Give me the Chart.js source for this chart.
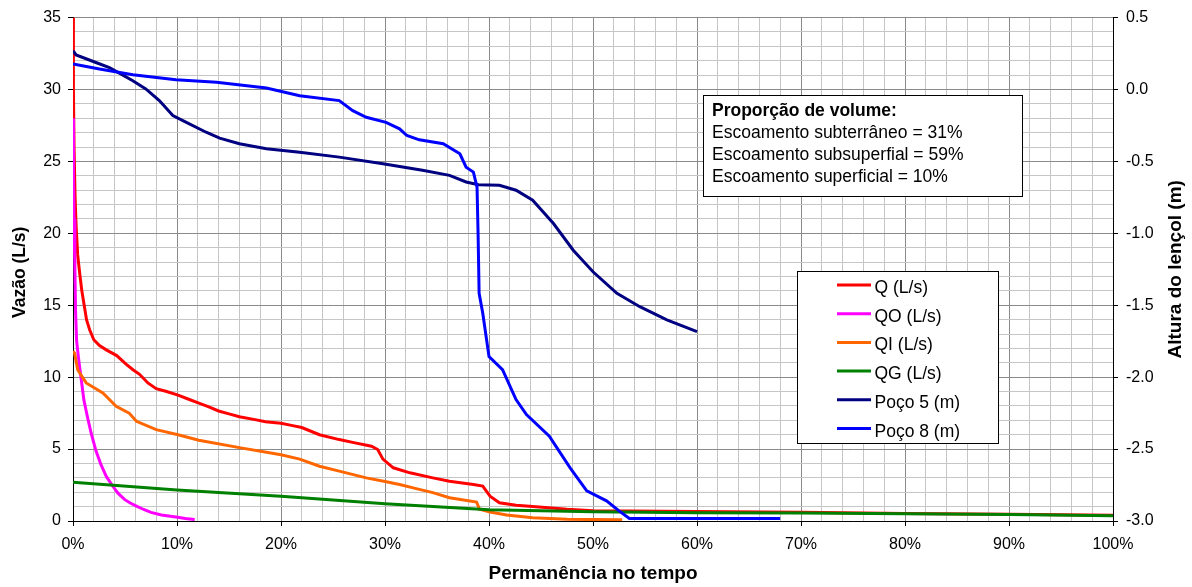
<!DOCTYPE html>
<html><head><meta charset="utf-8">
<script src="https://cdn.jsdelivr.net/npm/chart.js@4"></script>
<style>html,body{margin:0;padding:0;background:#fff;}#wrap{position:relative;width:1192px;height:587px;}</style>
</head><body><div id="wrap"><canvas id="c" width="1192" height="587"></canvas></div>
<script>
const FONT = '"Liberation Sans", Arial, Helvetica, sans-serif';

// ---- data (x = % of time, y = L/s or m) ----
const qX  = [0,0.04,0.1,0.2,0.3,0.45,0.63,0.85,1.1,1.3,1.6,2.0,2.55,3.2,4.2,5.1,5.8,6.4,7.2,8.0,9.0,10.1,11,12.1,13,14,15,16,17.5,18.5,20,21,22,23.7,25.6,27,28.7,29.3,29.8,30.8,32.4,34.6,36.2,38.5,39.4,40.1,41,42.6,44.2,47.5,50,60,70,80,90,100];
const qY  = [35,30,26,22.5,20.5,18.5,17.3,16,14.9,14.0,13.3,12.6,12.2,11.9,11.5,10.9,10.5,10.2,9.6,9.2,9.0,8.75,8.5,8.2,7.95,7.65,7.45,7.25,7.05,6.9,6.8,6.65,6.5,6.0,5.66,5.45,5.2,4.97,4.3,3.7,3.35,3.0,2.77,2.54,2.43,1.73,1.27,1.09,1.0,0.81,0.72,0.66,0.6,0.53,0.47,0.4];
const qoX = [0,0.05,0.1,0.18,0.25,0.35,0.55,0.8,1.05,1.4,1.75,2.2,2.7,3.2,3.8,4.3,4.95,5.5,6.1,6.8,7.5,8.5,9.9,10.8,11.7];
const qoY = [28,24,21,17.5,14.5,12.5,11.2,9.8,8.4,7.2,6.1,4.9,3.9,3.1,2.45,1.95,1.5,1.25,1.04,0.8,0.6,0.42,0.28,0.18,0.1];
const qiX = [0,0.15,0.46,1.27,2.87,4.15,5.4,6.1,8.0,10.1,12.1,16,20,21.8,23.7,25.6,28.2,30,31.4,33,34.6,36.2,38.8,39.1,40.1,41.7,44.2,47.5,52.8];
const qiY = [11.8,11.67,10.5,9.6,8.9,7.97,7.5,6.93,6.35,6.0,5.62,5.1,4.6,4.3,3.81,3.47,3.0,2.75,2.54,2.25,1.97,1.62,1.32,0.81,0.62,0.42,0.23,0.12,0.08];
const qgX = [0,10,20,30,40,50,60,70,80,90,100];
const qgY = [2.7,2.15,1.72,1.2,0.78,0.64,0.58,0.55,0.5,0.45,0.36];
const p5X = [0,0.3,2.2,3.5,4.8,5.75,7.0,8.3,9.6,10.9,12.8,14.1,16,18.6,21.8,25.6,29.8,33.6,36.2,37.8,39,41,42.6,44.2,46.2,48.1,50,52.3,54.5,57.1,60];
const p5Y = [0.27,0.24,0.188,0.153,0.1,0.061,0.004,-0.077,-0.181,-0.228,-0.297,-0.338,-0.377,-0.412,-0.436,-0.47,-0.516,-0.562,-0.597,-0.643,-0.662,-0.666,-0.7,-0.77,-0.932,-1.117,-1.267,-1.417,-1.51,-1.602,-1.683];
const p8X = [0,2.55,5.75,9.9,13.8,18.6,21.8,25.6,26.9,28.2,30.1,31.4,32.1,33.3,35.6,37.2,37.8,38.5,38.85,38.95,39.05,39.4,40,41.3,42.6,43.6,45.8,47.8,49.4,51.3,52.5,53.5,68];
const p8Y = [0.177,0.142,0.103,0.068,0.05,0.011,-0.043,-0.077,-0.147,-0.193,-0.228,-0.273,-0.32,-0.35,-0.377,-0.447,-0.54,-0.574,-0.68,-1.0,-1.417,-1.555,-1.856,-1.948,-2.156,-2.26,-2.41,-2.63,-2.79,-2.86,-2.93,-2.983,-2.983];

const seriesNames = ['Q (L/s)','QO (L/s)','QI (L/s)','QG (L/s)','Poço 5 (m)','Poço 8 (m)'];
const seriesColors = ['#FF0000','#FF00FF','#FF6600','#008000','#000080','#0000FF'];
const xTitle = 'Permanência no tempo';
const yTitle = 'Vazão (L/s)';
const y1Title = 'Altura do lençol (m)';
const boxTitle = 'Proporção de volume:';
const boxLines = ['Escoamento subterrâneo = 31%','Escoamento subsuperfial = 59%','Escoamento superficial = 10%'];

const pts = (xs, ys) => xs.map((x, i) => ({x, y: ys[i]}));
const allX = [qX, qoX, qiX, qgX, p5X, p8X];
const allY = [qY, qoY, qiY, qgY, p5Y, p8Y];

const MAJOR = '#8a8a8a', MINOR = '#c6c6c6';

const datasets = seriesNames.map((n, i) => ({
  label: n,
  data: pts(allX[i], allY[i]),
  borderColor: seriesColors[i],
  backgroundColor: seriesColors[i],
  borderWidth: 3,
  pointRadius: 0,
  tension: 0,
  fill: false,
  yAxisID: i < 4 ? 'y' : 'y1',
  order: 6 - i
}));

const overlay = {
  id: 'overlay',
  afterDatasetsDraw(chart) {
    const ctx = chart.ctx;
    ctx.save();
    // text box
    ctx.fillStyle = '#fff';
    ctx.fillRect(703, 95, 320, 102);
    ctx.strokeStyle = '#000'; ctx.lineWidth = 1;
    ctx.strokeRect(703.5, 95.5, 319, 101);
    ctx.fillStyle = '#000'; ctx.textAlign = 'left'; ctx.textBaseline = 'alphabetic';
    ctx.font = 'bold 17.5px ' + FONT;
    ctx.fillText(boxTitle, 712, 115.5);
    ctx.font = '17.5px ' + FONT;
    boxLines.forEach((t, i) => ctx.fillText(t, 712, 138 + i * 22));
    // legend
    ctx.fillStyle = '#fff';
    ctx.fillRect(797, 271, 202, 173);
    ctx.strokeRect(797.5, 271.5, 201, 172);
    seriesNames.forEach((n, i) => {
      const y = 285 + i * 28.7;
      ctx.strokeStyle = seriesColors[i]; ctx.lineWidth = 3;
      ctx.beginPath(); ctx.moveTo(837, y); ctx.lineTo(871, y); ctx.stroke();
      ctx.fillStyle = '#000';
      ctx.fillText(n, 874.5, y + 8);
    });
    // axis titles
    ctx.textAlign = 'center'; ctx.textBaseline = 'middle';
    const ca = chart.chartArea;
    ctx.font = 'bold 19px ' + FONT;
    ctx.fillText(xTitle, (ca.left + ca.right) / 2, 574);
    ctx.save(); ctx.translate(1176, (ca.top + ca.bottom) / 2); ctx.rotate(-Math.PI / 2);
    ctx.fillText(y1Title, 0, 0); ctx.restore();
    ctx.font = 'bold 17.5px ' + FONT;
    ctx.save(); ctx.translate(20, (ca.top + ca.bottom) / 2 + 3); ctx.rotate(-Math.PI / 2);
    ctx.fillText(yTitle, 0, 0); ctx.restore();
    ctx.restore();
  }
};

new Chart(document.getElementById('c'), {
  type: 'line',
  data: { datasets },
  options: {
    responsive: false, animation: false, devicePixelRatio: 1,
    layout: { padding: { top: 16, left: 0, right: 0, bottom: 0 } },
    plugins: { legend: { display: false }, tooltip: { enabled: false } },
    scales: {
      x: {
        type: 'linear', position: 'bottom', min: 0, max: 100,
        ticks: { stepSize: 2, autoSkip: false, maxRotation: 0, padding: 9, color: '#000',
          font: { family: FONT, size: 16 },
          callback: v => (Math.round(v) % 10 === 0 ? Math.round(v) + '%' : '') },
        grid: { color: c => (c.tick && Math.round(c.tick.value) % 10 === 0 ? MAJOR : MINOR), lineWidth: 1,
          tickLength: 5, tickColor: c => (c.tick && Math.round(c.tick.value) % 10 === 0 ? '#000' : 'rgba(0,0,0,0)') },
        border: { color: '#000', width: 1 },
        afterFit: s => { s.height = 66; }
      },
      y: {
        type: 'linear', position: 'left', min: 0, max: 35,
        ticks: { stepSize: 1, autoSkip: false, padding: 7, color: '#000',
          font: { family: FONT, size: 16 },
          callback: v => (Math.round(v) % 5 === 0 ? String(Math.round(v)) : '') },
        grid: { color: c => (c.tick && Math.round(c.tick.value) % 5 === 0 ? MAJOR : MINOR), lineWidth: 1,
          tickLength: 5, tickColor: c => (c.tick && Math.round(c.tick.value) % 5 === 0 ? '#000' : 'rgba(0,0,0,0)') },
        border: { color: '#000', width: 1 },
        afterFit: s => { s.width = 73; }
      },
      y1: {
        type: 'linear', position: 'right', min: -3, max: 0.5,
        ticks: { stepSize: 0.5, autoSkip: false, padding: 8, color: '#000',
          font: { family: FONT, size: 16 },
          callback: v => Number(v).toFixed(1) },
        grid: { drawOnChartArea: false, tickLength: 5, tickColor: '#000' },
        border: { color: '#000', width: 1 },
        afterFit: s => { s.width = 79; }
      }
    }
  },
  plugins: [overlay]
});
</script>
</body></html>
